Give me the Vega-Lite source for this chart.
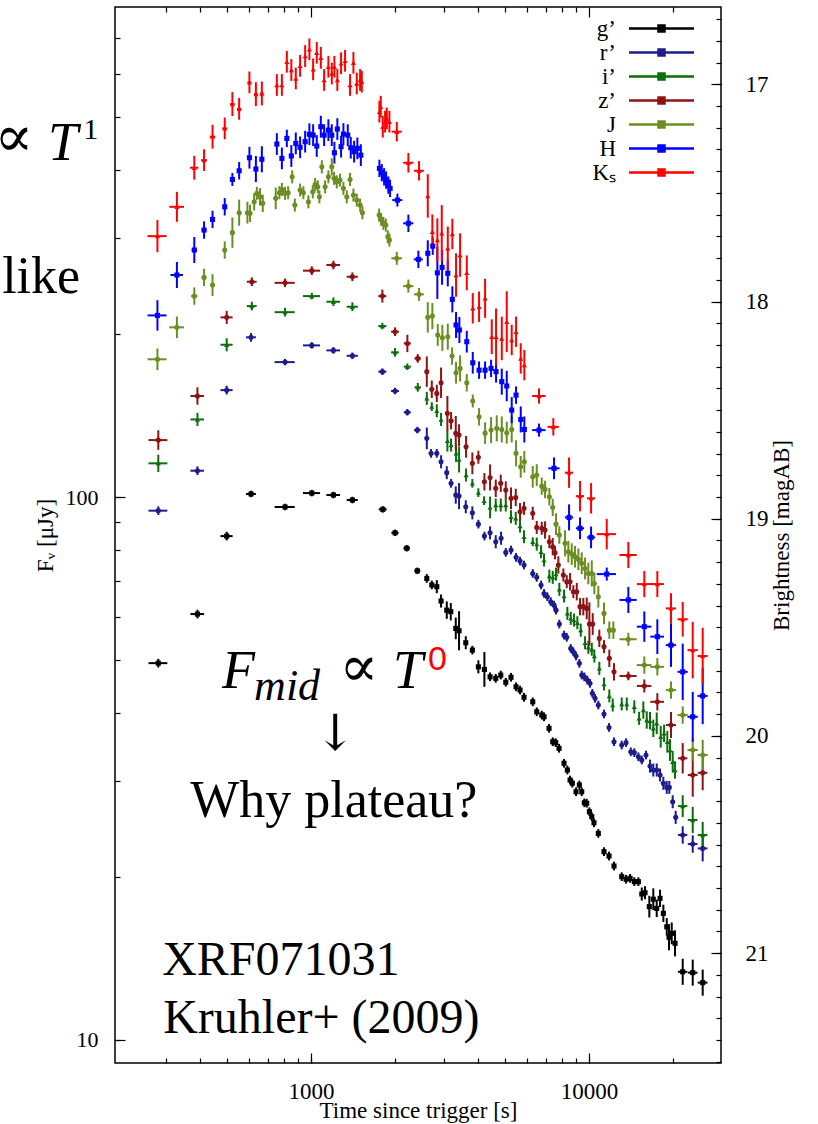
{
"$schema": "https://vega.github.io/schema/vega-lite/v6.json",
"width": 606, "height": 1056,
"autosize": {"type": "none"},
"padding": {"left": 115, "top": 7, "right": 97, "bottom": 61},
"background": "#ffffff",
"config": {
  "font": "Liberation Serif",
  "view": {"stroke": "#000000", "strokeWidth": 1.5}
},
"datasets": {
"phot": [
{"b":"g’","t":282,"te":22,"m":19.665,"me":0.02},
{"b":"g’","t":390,"te":22,"m":19.439,"me":0.02},
{"b":"g’","t":497,"te":25,"m":19.08,"me":0.02},
{"b":"g’","t":608,"te":25,"m":18.886,"me":0.015},
{"b":"g’","t":806,"te":67,"m":18.946,"me":0.015},
{"b":"g’","t":1006,"te":71,"m":18.882,"me":0.015},
{"b":"g’","t":1203,"te":68,"m":18.891,"me":0.015},
{"b":"g’","t":1408,"te":65,"m":18.914,"me":0.015},
{"b":"g’","t":1811,"te":60,"m":18.957,"me":0.015},
{"b":"g’","t":2005,"te":60,"m":19.065,"me":0.015},
{"b":"g’","t":2209,"te":60,"m":19.136,"me":0.015},
{"b":"g’","t":2412,"te":60,"m":19.24,"me":0.015},
{"b":"g’","t":2608,"m":19.275,"me":0.02},
{"b":"g’","t":2718,"m":19.305,"me":0.02},
{"b":"g’","t":2833,"m":19.313,"me":0.03},
{"b":"g’","t":2935,"m":19.379,"me":0.03},
{"b":"g’","t":3077,"m":19.421,"me":0.04},
{"b":"g’","t":3181,"m":19.428,"me":0.04},
{"b":"g’","t":3315,"m":19.505,"me":0.05},
{"b":"g’","t":3407,"m":19.516,"me":0.09},
{"b":"g’","t":3602,"m":19.571,"me":0.03},
{"b":"g’","t":3804,"m":19.605,"me":0.02},
{"b":"g’","t":3998,"m":19.682,"me":0.03},
{"b":"g’","t":4203,"m":19.694,"me":0.08},
{"b":"g’","t":4405,"m":19.728,"me":0.02},
{"b":"g’","t":4617,"m":19.735,"me":0.02},
{"b":"g’","t":4813,"m":19.72,"me":0.02},
{"b":"g’","t":5017,"m":19.753,"me":0.02},
{"b":"g’","t":5240,"m":19.73,"me":0.02},
{"b":"g’","t":5463,"m":19.774,"me":0.02},
{"b":"g’","t":5646,"m":19.789,"me":0.02},
{"b":"g’","t":5836,"m":19.822,"me":0.02},
{"b":"g’","t":6273,"m":19.843,"me":0.02},
{"b":"g’","t":6484,"m":19.889,"me":0.02},
{"b":"g’","t":6759,"m":19.904,"me":0.02},
{"b":"g’","t":6888,"m":19.912,"me":0.02},
{"b":"g’","t":7180,"m":19.965,"me":0.02},
{"b":"g’","t":7403,"m":20.027,"me":0.02},
{"b":"g’","t":7589,"m":20.031,"me":0.02},
{"b":"g’","t":7800,"m":20.057,"me":0.02},
{"b":"g’","t":8130,"m":20.126,"me":0.02},
{"b":"g’","t":8356,"m":20.157,"me":0.02},
{"b":"g’","t":8545,"m":20.203,"me":0.02},
{"b":"g’","t":8708,"m":20.218,"me":0.02},
{"b":"g’","t":8979,"m":20.257,"me":0.02},
{"b":"g’","t":9229,"m":20.226,"me":0.02},
{"b":"g’","t":9413,"m":20.257,"me":0.02},
{"b":"g’","t":9618,"m":20.308,"me":0.02},
{"b":"g’","t":9811,"m":20.31,"me":0.02},
{"b":"g’","t":10030,"m":20.349,"me":0.02},
{"b":"g’","t":10230,"m":20.372,"me":0.02},
{"b":"g’","t":10420,"m":20.4,"me":0.02},
{"b":"g’","t":10800,"m":20.449,"me":0.02},
{"b":"g’","t":11320,"m":20.533,"me":0.02},
{"b":"g’","t":11800,"m":20.553,"me":0.02},
{"b":"g’","t":12300,"m":20.599,"me":0.02},
{"b":"g’","t":13110,"m":20.648,"me":0.02},
{"b":"g’","t":13590,"m":20.66,"me":0.02},
{"b":"g’","t":14050,"m":20.656,"me":0.02},
{"b":"g’","t":14550,"m":20.671,"me":0.02},
{"b":"g’","t":15050,"m":20.671,"me":0.02},
{"b":"g’","t":15480,"m":20.728,"me":0.03},
{"b":"g’","t":15900,"m":20.722,"me":0.03},
{"b":"g’","t":16480,"m":20.786,"me":0.05},
{"b":"g’","t":17030,"m":20.752,"me":0.05},
{"b":"g’","t":17520,"m":20.794,"me":0.04},
{"b":"g’","t":18010,"m":20.748,"me":0.04},
{"b":"g’","t":18510,"m":20.817,"me":0.04},
{"b":"g’","t":19040,"m":20.879,"me":0.04},
{"b":"g’","t":19400,"m":20.927,"me":0.06},
{"b":"g’","t":19840,"m":20.909,"me":0.05},
{"b":"g’","t":20390,"m":20.955,"me":0.06},
{"b":"g’","t":21730,"te":850,"m":21.086,"me":0.06},
{"b":"g’","t":23610,"te":950,"m":21.09,"me":0.06},
{"b":"g’","t":25640,"te":1030,"m":21.136,"me":0.06},
{"b":"r’","t":282,"te":22,"m":18.963,"me":0.02},
{"b":"r’","t":390,"te":22,"m":18.779,"me":0.02},
{"b":"r’","t":497,"te":25,"m":18.408,"me":0.02},
{"b":"r’","t":608,"te":25,"m":18.165,"me":0.02},
{"b":"r’","t":806,"te":67,"m":18.279,"me":0.015},
{"b":"r’","t":1006,"te":71,"m":18.202,"me":0.015},
{"b":"r’","t":1203,"te":68,"m":18.225,"me":0.015},
{"b":"r’","t":1408,"te":65,"m":18.25,"me":0.015},
{"b":"r’","t":1805,"te":60,"m":18.323,"me":0.015},
{"b":"r’","t":2005,"te":65,"m":18.412,"me":0.015},
{"b":"r’","t":2220,"te":65,"m":18.51,"me":0.015},
{"b":"r’","t":2412,"te":65,"m":18.592,"me":0.015},
{"b":"r’","t":2608,"m":18.63,"me":0.05},
{"b":"r’","t":2702,"m":18.699,"me":0.02},
{"b":"r’","t":2833,"m":18.699,"me":0.02},
{"b":"r’","t":2935,"m":18.738,"me":0.03},
{"b":"r’","t":3077,"m":18.788,"me":0.03},
{"b":"r’","t":3189,"m":18.837,"me":0.02},
{"b":"r’","t":3315,"m":18.891,"me":0.04},
{"b":"r’","t":3407,"m":18.896,"me":0.06},
{"b":"r’","t":3602,"m":18.945,"me":0.03},
{"b":"r’","t":3804,"m":18.973,"me":0.03},
{"b":"r’","t":3998,"m":19.025,"me":0.02},
{"b":"r’","t":4203,"m":19.08,"me":0.02},
{"b":"r’","t":4405,"m":19.065,"me":0.03},
{"b":"r’","t":4617,"m":19.106,"me":0.03},
{"b":"r’","t":4825,"m":19.09,"me":0.03},
{"b":"r’","t":5017,"m":19.155,"me":0.02},
{"b":"r’","t":5240,"m":19.144,"me":0.02},
{"b":"r’","t":5463,"m":19.178,"me":0.02},
{"b":"r’","t":5646,"m":19.195,"me":0.02},
{"b":"r’","t":5836,"m":19.213,"me":0.02},
{"b":"r’","t":6273,"m":19.252,"me":0.02},
{"b":"r’","t":6484,"m":19.27,"me":0.02},
{"b":"r’","t":6719,"m":19.305,"me":0.02},
{"b":"r’","t":6888,"m":19.344,"me":0.02},
{"b":"r’","t":7079,"m":19.359,"me":0.02},
{"b":"r’","t":7281,"m":19.382,"me":0.02},
{"b":"r’","t":7483,"m":19.398,"me":0.02},
{"b":"r’","t":7608,"m":19.421,"me":0.02},
{"b":"r’","t":7819,"m":19.485,"me":0.02},
{"b":"r’","t":8130,"m":19.536,"me":0.02},
{"b":"r’","t":8314,"m":19.546,"me":0.02},
{"b":"r’","t":8594,"m":19.597,"me":0.02},
{"b":"r’","t":8781,"m":19.613,"me":0.02},
{"b":"r’","t":8979,"m":19.632,"me":0.02},
{"b":"r’","t":9229,"m":19.666,"me":0.02},
{"b":"r’","t":9413,"m":19.72,"me":0.02},
{"b":"r’","t":9618,"m":19.728,"me":0.02},
{"b":"r’","t":9860,"m":19.743,"me":0.02},
{"b":"r’","t":10080,"m":19.758,"me":0.02},
{"b":"r’","t":10280,"m":19.804,"me":0.02},
{"b":"r’","t":10510,"m":19.827,"me":0.02},
{"b":"r’","t":10800,"m":19.858,"me":0.02},
{"b":"r’","t":11320,"m":19.899,"me":0.02},
{"b":"r’","t":11800,"m":19.961,"me":0.02},
{"b":"r’","t":12300,"m":20.027,"me":0.02},
{"b":"r’","t":13110,"m":20.042,"me":0.02},
{"b":"r’","t":13590,"m":20.031,"me":0.02},
{"b":"r’","t":14130,"m":20.073,"me":0.02},
{"b":"r’","t":14550,"m":20.077,"me":0.02},
{"b":"r’","t":15050,"m":20.096,"me":0.02},
{"b":"r’","t":15480,"m":20.111,"me":0.02},
{"b":"r’","t":16030,"m":20.088,"me":0.02},
{"b":"r’","t":16570,"m":20.139,"me":0.03},
{"b":"r’","t":17030,"m":20.157,"me":0.03},
{"b":"r’","t":17520,"m":20.157,"me":0.03},
{"b":"r’","t":18010,"m":20.18,"me":0.03},
{"b":"r’","t":18510,"m":20.218,"me":0.03},
{"b":"r’","t":19040,"m":20.237,"me":0.03},
{"b":"r’","t":19450,"m":20.237,"me":0.03},
{"b":"r’","t":20000,"m":20.303,"me":0.03},
{"b":"r’","t":20500,"m":20.375,"me":0.03},
{"b":"r’","t":21730,"te":850,"m":20.456,"me":0.04},
{"b":"r’","t":23610,"te":950,"m":20.498,"me":0.04},
{"b":"r’","t":25640,"te":1030,"m":20.518,"me":0.06},
{"b":"i’","t":282,"te":22,"m":18.745,"me":0.04},
{"b":"i’","t":390,"te":22,"m":18.543,"me":0.03},
{"b":"i’","t":497,"te":25,"m":18.199,"me":0.03},
{"b":"i’","t":612,"te":25,"m":18.021,"me":0.02},
{"b":"i’","t":806,"te":67,"m":18.049,"me":0.02},
{"b":"i’","t":1006,"te":71,"m":17.975,"me":0.015},
{"b":"i’","t":1203,"te":68,"m":18.001,"me":0.02},
{"b":"i’","t":1408,"te":65,"m":18.024,"me":0.02},
{"b":"i’","t":1805,"te":60,"m":18.113,"me":0.015},
{"b":"i’","t":2005,"te":65,"m":18.234,"me":0.02},
{"b":"i’","t":2220,"te":65,"m":18.3,"me":0.015},
{"b":"i’","t":2420,"te":65,"m":18.395,"me":0.02},
{"b":"i’","t":2608,"m":18.446,"me":0.03},
{"b":"i’","t":2718,"m":18.484,"me":0.02},
{"b":"i’","t":2833,"m":18.503,"me":0.03},
{"b":"i’","t":2935,"m":18.543,"me":0.03},
{"b":"i’","t":3093,"m":18.641,"me":0.05},
{"b":"i’","t":3189,"m":18.661,"me":0.03},
{"b":"i’","t":3323,"m":18.699,"me":0.04},
{"b":"i’","t":3407,"m":18.727,"me":0.06},
{"b":"i’","t":3611,"m":18.799,"me":0.03},
{"b":"i’","t":3804,"m":18.837,"me":0.02},
{"b":"i’","t":3998,"m":18.88,"me":0.02},
{"b":"i’","t":4192,"m":18.917,"me":0.02},
{"b":"i’","t":4405,"m":18.948,"me":0.05},
{"b":"i’","t":4617,"m":18.937,"me":0.03},
{"b":"i’","t":4813,"m":18.937,"me":0.03},
{"b":"i’","t":5017,"m":18.937,"me":0.03},
{"b":"i’","t":5240,"m":18.991,"me":0.03},
{"b":"i’","t":5449,"m":18.998,"me":0.03},
{"b":"i’","t":5646,"m":19.034,"me":0.03},
{"b":"i’","t":5836,"m":19.083,"me":0.03},
{"b":"i’","t":6273,"m":19.106,"me":0.02},
{"b":"i’","t":6484,"m":19.117,"me":0.03},
{"b":"i’","t":6719,"m":19.152,"me":0.03},
{"b":"i’","t":6888,"m":19.19,"me":0.03},
{"b":"i’","t":7198,"m":19.264,"me":0.03},
{"b":"i’","t":7403,"m":19.27,"me":0.03},
{"b":"i’","t":7608,"m":19.255,"me":0.03},
{"b":"i’","t":7819,"m":19.325,"me":0.03},
{"b":"i’","t":8130,"m":19.356,"me":0.03},
{"b":"i’","t":8356,"m":19.436,"me":0.03},
{"b":"i’","t":8594,"m":19.459,"me":0.03},
{"b":"i’","t":8831,"m":19.467,"me":0.03},
{"b":"i’","t":9077,"m":19.479,"me":0.03},
{"b":"i’","t":9335,"m":19.513,"me":0.03},
{"b":"i’","t":9674,"m":19.571,"me":0.03},
{"b":"i’","t":9942,"m":19.592,"me":0.03},
{"b":"i’","t":10230,"m":19.601,"me":0.03},
{"b":"i’","t":10450,"m":19.632,"me":0.03},
{"b":"i’","t":10890,"m":19.689,"me":0.03},
{"b":"i’","t":11320,"m":19.761,"me":0.03},
{"b":"i’","t":11830,"m":19.816,"me":0.03},
{"b":"i’","t":12170,"m":19.858,"me":0.03},
{"b":"i’","t":13110,"m":19.853,"me":0.03},
{"b":"i’","t":13670,"m":19.853,"me":0.03},
{"b":"i’","t":14550,"m":19.866,"me":0.03},
{"b":"i’","t":15140,"m":19.919,"me":0.03},
{"b":"i’","t":15680,"m":19.881,"me":0.04},
{"b":"i’","t":16130,"m":19.927,"me":0.04},
{"b":"i’","t":16570,"m":19.93,"me":0.04},
{"b":"i’","t":17030,"m":19.965,"me":0.04},
{"b":"i’","t":17520,"m":19.942,"me":0.05},
{"b":"i’","t":18110,"m":20.004,"me":0.05},
{"b":"i’","t":18620,"m":19.988,"me":0.04},
{"b":"i’","t":19130,"m":20.027,"me":0.05},
{"b":"i’","t":19560,"m":20.065,"me":0.05},
{"b":"i’","t":20000,"m":20.119,"me":0.05},
{"b":"i’","t":20390,"m":20.157,"me":0.04},
{"b":"i’","t":21730,"te":850,"m":20.323,"me":0.05},
{"b":"i’","t":23610,"te":950,"m":20.387,"me":0.06},
{"b":"i’","t":25640,"te":1030,"m":20.456,"me":0.06},
{"b":"z’","t":282,"te":22,"m":18.638,"me":0.045},
{"b":"z’","t":390,"te":22,"m":18.435,"me":0.04},
{"b":"z’","t":497,"te":25,"m":18.073,"me":0.03},
{"b":"z’","t":612,"te":25,"m":17.909,"me":0.02},
{"b":"z’","t":806,"te":67,"m":17.914,"me":0.02},
{"b":"z’","t":1006,"te":71,"m":17.858,"me":0.02},
{"b":"z’","t":1203,"te":68,"m":17.832,"me":0.02},
{"b":"z’","t":1408,"te":65,"m":17.886,"me":0.02},
{"b":"z’","t":1805,"te":60,"m":17.975,"me":0.03},
{"b":"z’","t":2005,"te":65,"m":18.139,"me":0.02},
{"b":"z’","t":2220,"te":65,"m":18.193,"me":0.04},
{"b":"z’","t":2420,"te":65,"m":18.262,"me":0.02},
{"b":"z’","t":2608,"m":18.323,"me":0.07},
{"b":"z’","t":2718,"m":18.404,"me":0.04},
{"b":"z’","t":2833,"m":18.423,"me":0.04},
{"b":"z’","t":2935,"m":18.374,"me":0.07},
{"b":"z’","t":3093,"m":18.515,"me":0.08},
{"b":"z’","t":3189,"m":18.549,"me":0.04},
{"b":"z’","t":3315,"m":18.607,"me":0.08},
{"b":"z’","t":3407,"m":18.615,"me":0.05},
{"b":"z’","t":3611,"m":18.669,"me":0.05},
{"b":"z’","t":3804,"m":18.745,"me":0.05},
{"b":"z’","t":3998,"m":18.717,"me":0.03},
{"b":"z’","t":4203,"m":18.83,"me":0.04},
{"b":"z’","t":4405,"m":18.81,"me":0.06},
{"b":"z’","t":4617,"m":18.86,"me":0.04},
{"b":"z’","t":4813,"m":18.837,"me":0.04},
{"b":"z’","t":5017,"m":18.868,"me":0.04},
{"b":"z’","t":5240,"m":18.906,"me":0.05},
{"b":"z’","t":5449,"m":18.902,"me":0.04},
{"b":"z’","t":5646,"m":18.968,"me":0.04},
{"b":"z’","t":5836,"m":18.952,"me":0.03},
{"b":"z’","t":6273,"m":18.975,"me":0.03},
{"b":"z’","t":6484,"m":19.04,"me":0.03},
{"b":"z’","t":6759,"m":19.044,"me":0.03},
{"b":"z’","t":6946,"m":19.052,"me":0.04},
{"b":"z’","t":7198,"m":19.106,"me":0.03},
{"b":"z’","t":7403,"m":19.129,"me":0.04},
{"b":"z’","t":7546,"m":19.157,"me":0.03},
{"b":"z’","t":7755,"m":19.213,"me":0.04},
{"b":"z’","t":8083,"m":19.259,"me":0.03},
{"b":"z’","t":8314,"m":19.29,"me":0.03},
{"b":"z’","t":8545,"m":19.29,"me":0.04},
{"b":"z’","t":8781,"m":19.336,"me":0.03},
{"b":"z’","t":9033,"m":19.336,"me":0.04},
{"b":"z’","t":9282,"m":19.405,"me":0.04},
{"b":"z’","t":9539,"m":19.405,"me":0.04},
{"b":"z’","t":9811,"m":19.413,"me":0.05},
{"b":"z’","t":10030,"m":19.485,"me":0.1},
{"b":"z’","t":10310,"m":19.485,"me":0.05},
{"b":"z’","t":10890,"m":19.551,"me":0.04},
{"b":"z’","t":11320,"m":19.589,"me":0.03},
{"b":"z’","t":11830,"m":19.643,"me":0.04},
{"b":"z’","t":12300,"m":19.705,"me":0.04},
{"b":"z’","t":13850,"te":985,"m":19.724,"me":0.02},
{"b":"z’","t":15810,"te":950,"m":19.77,"me":0.03},
{"b":"z’","t":17610,"te":1000,"m":19.843,"me":0.04},
{"b":"z’","t":19720,"te":830,"m":19.95,"me":0.06},
{"b":"z’","t":21730,"te":850,"m":20.103,"me":0.07},
{"b":"z’","t":23610,"te":950,"m":20.18,"me":0.1},
{"b":"z’","t":25640,"te":1030,"m":20.17,"me":0.08},
{"b":"J","t":280,"te":22,"m":18.266,"me":0.05},
{"b":"J","t":329,"te":20,"m":18.119,"me":0.05},
{"b":"J","t":380,"te":10,"m":17.975,"me":0.04},
{"b":"J","t":412,"te":8,"m":17.889,"me":0.04},
{"b":"J","t":442,"m":17.924,"me":0.05},
{"b":"J","t":489,"m":17.763,"me":0.04},
{"b":"J","t":521,"m":17.683,"me":0.07},
{"b":"J","t":551,"m":17.591,"me":0.06},
{"b":"J","t":590,"m":17.591,"me":0.05},
{"b":"J","t":603,"m":17.594,"me":0.04},
{"b":"J","t":624,"m":17.541,"me":0.04},
{"b":"J","t":638,"m":17.502,"me":0.03},
{"b":"J","t":655,"m":17.518,"me":0.04},
{"b":"J","t":670,"m":17.548,"me":0.04},
{"b":"J","t":746,"m":17.525,"me":0.05},
{"b":"J","t":769,"m":17.499,"me":0.03},
{"b":"J","t":785,"m":17.484,"me":0.03},
{"b":"J","t":806,"m":17.502,"me":0.03},
{"b":"J","t":827,"m":17.499,"me":0.03},
{"b":"J","t":855,"m":17.426,"me":0.03},
{"b":"J","t":874,"m":17.556,"me":0.03},
{"b":"J","t":913,"m":17.487,"me":0.03},
{"b":"J","t":938,"m":17.499,"me":0.03},
{"b":"J","t":978,"m":17.541,"me":0.03},
{"b":"J","t":1014,"m":17.495,"me":0.03},
{"b":"J","t":1034,"m":17.461,"me":0.03},
{"b":"J","t":1057,"m":17.472,"me":0.03},
{"b":"J","t":1071,"m":17.518,"me":0.03},
{"b":"J","t":1093,"m":17.38,"me":0.03},
{"b":"J","t":1123,"m":17.472,"me":0.03},
{"b":"J","t":1154,"m":17.426,"me":0.03},
{"b":"J","t":1187,"m":17.38,"me":0.04},
{"b":"J","t":1210,"m":17.433,"me":0.03},
{"b":"J","t":1237,"m":17.449,"me":0.03},
{"b":"J","t":1271,"m":17.441,"me":0.03},
{"b":"J","t":1307,"m":17.479,"me":0.03},
{"b":"J","t":1344,"m":17.518,"me":0.03},
{"b":"J","t":1381,"m":17.438,"me":0.03},
{"b":"J","t":1420,"m":17.51,"me":0.03},
{"b":"J","t":1460,"m":17.533,"me":0.03},
{"b":"J","t":1501,"m":17.556,"me":0.03},
{"b":"J","t":1530,"m":17.591,"me":0.03},
{"b":"J","t":1757,"m":17.602,"me":0.03},
{"b":"J","t":1786,"m":17.622,"me":0.03},
{"b":"J","t":1820,"m":17.64,"me":0.03},
{"b":"J","t":1857,"m":17.648,"me":0.03},
{"b":"J","t":1888,"m":17.702,"me":0.03},
{"b":"J","t":1913,"m":17.717,"me":0.03},
{"b":"J","t":2034,"te":90,"m":17.801,"me":0.03},
{"b":"J","t":2239,"te":95,"m":17.929,"me":0.03},
{"b":"J","t":2446,"te":100,"m":17.967,"me":0.03},
{"b":"J","t":2629,"m":18.073,"me":0.07},
{"b":"J","t":2731,"m":18.067,"me":0.06},
{"b":"J","t":2856,"m":18.154,"me":0.05},
{"b":"J","t":2967,"m":18.167,"me":0.06},
{"b":"J","t":3103,"m":18.162,"me":0.06},
{"b":"J","t":3215,"m":18.251,"me":0.04},
{"b":"J","t":3323,"m":18.328,"me":0.05},
{"b":"J","t":3436,"m":18.308,"me":0.06},
{"b":"J","t":3632,"m":18.374,"me":0.04},
{"b":"J","t":3817,"m":18.458,"me":0.03},
{"b":"J","t":4021,"m":18.531,"me":0.04},
{"b":"J","t":4227,"m":18.606,"me":0.05},
{"b":"J","t":4442,"m":18.592,"me":0.06},
{"b":"J","t":4656,"m":18.584,"me":0.06},
{"b":"J","t":4853,"m":18.589,"me":0.06},
{"b":"J","t":5058,"m":18.604,"me":0.05},
{"b":"J","t":5270,"m":18.589,"me":0.06},
{"b":"J","t":5463,"m":18.699,"me":0.06},
{"b":"J","t":5679,"m":18.761,"me":0.05},
{"b":"J","t":5851,"m":18.738,"me":0.05},
{"b":"J","t":6273,"m":18.807,"me":0.05},
{"b":"J","t":6484,"m":18.799,"me":0.05},
{"b":"J","t":6759,"m":18.85,"me":0.04},
{"b":"J","t":6946,"m":18.865,"me":0.04},
{"b":"J","t":7198,"m":18.899,"me":0.04},
{"b":"J","t":7403,"m":18.948,"me":0.04},
{"b":"J","t":7608,"m":19.025,"me":0.05},
{"b":"J","t":7819,"m":19.075,"me":0.04},
{"b":"J","t":8198,"m":19.113,"me":0.06},
{"b":"J","t":8425,"m":19.152,"me":0.05},
{"b":"J","t":8666,"m":19.163,"me":0.05},
{"b":"J","t":8905,"m":19.175,"me":0.05},
{"b":"J","t":9153,"m":19.187,"me":0.05},
{"b":"J","t":9413,"m":19.205,"me":0.05},
{"b":"J","t":9674,"m":19.229,"me":0.05},
{"b":"J","t":9942,"m":19.252,"me":0.05},
{"b":"J","t":10230,"m":19.252,"me":0.06},
{"b":"J","t":10450,"m":19.298,"me":0.05},
{"b":"J","t":10800,"m":19.359,"me":0.05},
{"b":"J","t":11320,"m":19.436,"me":0.05},
{"b":"J","t":11830,"m":19.513,"me":0.04},
{"b":"J","t":12230,"m":19.513,"me":0.04},
{"b":"J","t":13850,"te":985,"m":19.555,"me":0.03},
{"b":"J","t":15810,"te":950,"m":19.674,"me":0.04},
{"b":"J","t":17610,"te":1000,"m":19.682,"me":0.04},
{"b":"J","t":19720,"te":830,"m":19.789,"me":0.04},
{"b":"J","t":21730,"te":920,"m":19.904,"me":0.04},
{"b":"J","t":23610,"te":1000,"m":20.065,"me":0.05},
{"b":"J","t":25640,"te":1080,"m":20.088,"me":0.07},
{"b":"H","t":280,"te":22,"m":18.064,"me":0.07},
{"b":"H","t":329,"te":17,"m":17.878,"me":0.06},
{"b":"H","t":380,"te":8,"m":17.763,"me":0.06},
{"b":"H","t":412,"te":8,"m":17.671,"me":0.04},
{"b":"H","t":442,"m":17.622,"me":0.04},
{"b":"H","t":489,"m":17.564,"me":0.04},
{"b":"H","t":521,"m":17.438,"me":0.03},
{"b":"H","t":551,"m":17.398,"me":0.04},
{"b":"H","t":600,"m":17.338,"me":0.05},
{"b":"H","t":633,"m":17.39,"me":0.06},
{"b":"H","t":665,"m":17.345,"me":0.06},
{"b":"H","t":753,"m":17.275,"me":0.05},
{"b":"H","t":785,"m":17.341,"me":0.05},
{"b":"H","t":818,"m":17.249,"me":0.04},
{"b":"H","t":849,"m":17.33,"me":0.05},
{"b":"H","t":881,"m":17.272,"me":0.05},
{"b":"H","t":913,"m":17.29,"me":0.05},
{"b":"H","t":952,"m":17.264,"me":0.05},
{"b":"H","t":986,"m":17.23,"me":0.05},
{"b":"H","t":1017,"m":17.234,"me":0.05},
{"b":"H","t":1048,"m":17.284,"me":0.05},
{"b":"H","t":1084,"m":17.195,"me":0.05},
{"b":"H","t":1114,"m":17.234,"me":0.05},
{"b":"H","t":1154,"m":17.211,"me":0.05},
{"b":"H","t":1187,"m":17.234,"me":0.05},
{"b":"H","t":1213,"m":17.315,"me":0.05},
{"b":"H","t":1243,"m":17.206,"me":0.05},
{"b":"H","t":1282,"m":17.287,"me":0.05},
{"b":"H","t":1307,"m":17.229,"me":0.05},
{"b":"H","t":1355,"m":17.234,"me":0.05},
{"b":"H","t":1389,"m":17.292,"me":0.05},
{"b":"H","t":1428,"m":17.31,"me":0.05},
{"b":"H","t":1467,"m":17.295,"me":0.05},
{"b":"H","t":1510,"m":17.326,"me":0.05},
{"b":"H","t":1761,"m":17.387,"me":0.04},
{"b":"H","t":1796,"m":17.407,"me":0.04},
{"b":"H","t":1831,"m":17.426,"me":0.04},
{"b":"H","t":1862,"m":17.441,"me":0.04},
{"b":"H","t":1897,"m":17.464,"me":0.04},
{"b":"H","t":1924,"m":17.479,"me":0.04},
{"b":"H","t":2044,"te":85,"m":17.533,"me":0.03},
{"b":"H","t":2239,"te":95,"m":17.64,"me":0.04},
{"b":"H","t":2432,"te":90,"m":17.806,"me":0.04},
{"b":"H","t":2629,"m":17.778,"me":0.06},
{"b":"H","t":2740,"m":17.745,"me":0.04},
{"b":"H","t":2846,"m":17.868,"me":0.12},
{"b":"H","t":2960,"m":17.843,"me":0.08},
{"b":"H","t":3103,"m":17.87,"me":0.06},
{"b":"H","t":3223,"m":17.99,"me":0.06},
{"b":"H","t":3323,"m":18.108,"me":0.06},
{"b":"H","t":3416,"m":18.131,"me":0.06},
{"b":"H","t":3632,"m":18.185,"me":0.05},
{"b":"H","t":3817,"m":18.282,"me":0.05},
{"b":"H","t":4021,"m":18.316,"me":0.04},
{"b":"H","t":4227,"m":18.316,"me":0.04},
{"b":"H","t":4442,"m":18.308,"me":0.04},
{"b":"H","t":4629,"m":18.323,"me":0.05},
{"b":"H","t":4853,"m":18.369,"me":0.06},
{"b":"H","t":5058,"m":18.389,"me":0.07},
{"b":"H","t":5270,"m":18.5,"me":0.06},
{"b":"H","t":5463,"m":18.431,"me":0.04},
{"b":"H","t":5679,"m":18.543,"me":0.06},
{"b":"H","t":5851,"m":18.589,"me":0.06},
{"b":"H","t":6608,"te":365,"m":18.592,"me":0.03},
{"b":"H","t":7483,"te":350,"m":18.768,"me":0.05},
{"b":"H","t":8475,"te":290,"m":18.994,"me":0.06},
{"b":"H","t":9282,"te":315,"m":19.044,"me":0.05},
{"b":"H","t":10170,"te":345,"m":19.086,"me":0.05},
{"b":"H","t":11580,"te":925,"m":19.255,"me":0.03},
{"b":"H","t":13850,"te":985,"m":19.374,"me":0.06},
{"b":"H","t":15810,"te":950,"m":19.497,"me":0.07},
{"b":"H","t":17610,"te":1000,"m":19.543,"me":0.08},
{"b":"H","t":19720,"te":830,"m":19.582,"me":0.1},
{"b":"H","t":21730,"te":920,"m":19.705,"me":0.13},
{"b":"H","t":23610,"te":1000,"m":19.912,"me":0.115},
{"b":"H","t":25640,"te":1080,"m":19.816,"me":0.13},
{"b":"Kₛ","t":280,"te":22,"m":17.699,"me":0.074},
{"b":"Kₛ","t":329,"te":20,"m":17.564,"me":0.069},
{"b":"Kₛ","t":380,"te":13,"m":17.384,"me":0.055},
{"b":"Kₛ","t":412,"te":10,"m":17.349,"me":0.05},
{"b":"Kₛ","t":442,"te":10,"m":17.241,"me":0.055},
{"b":"Kₛ","t":489,"te":10,"m":17.203,"me":0.05},
{"b":"Kₛ","t":521,"te":10,"m":17.091,"me":0.055},
{"b":"Kₛ","t":551,"te":10,"m":17.113,"me":0.05},
{"b":"Kₛ","t":600,"te":10,"m":16.991,"me":0.05},
{"b":"Kₛ","t":633,"te":10,"m":17.045,"me":0.055},
{"b":"Kₛ","t":665,"te":10,"m":17.042,"me":0.055},
{"b":"Kₛ","t":753,"m":17.003,"me":0.05},
{"b":"Kₛ","t":785,"m":17.003,"me":0.05},
{"b":"Kₛ","t":818,"m":16.896,"me":0.05},
{"b":"Kₛ","t":849,"m":16.934,"me":0.05},
{"b":"Kₛ","t":881,"m":16.973,"me":0.05},
{"b":"Kₛ","t":913,"m":16.915,"me":0.05},
{"b":"Kₛ","t":952,"m":16.87,"me":0.05},
{"b":"Kₛ","t":986,"m":16.839,"me":0.05},
{"b":"Kₛ","t":1017,"m":16.931,"me":0.05},
{"b":"Kₛ","t":1048,"m":16.855,"me":0.05},
{"b":"Kₛ","t":1084,"m":16.878,"me":0.05},
{"b":"Kₛ","t":1114,"m":16.98,"me":0.05},
{"b":"Kₛ","t":1154,"m":16.919,"me":0.05},
{"b":"Kₛ","t":1187,"m":16.95,"me":0.05},
{"b":"Kₛ","t":1213,"m":16.919,"me":0.05},
{"b":"Kₛ","t":1243,"m":16.98,"me":0.05},
{"b":"Kₛ","t":1282,"m":16.903,"me":0.05},
{"b":"Kₛ","t":1325,"m":16.892,"me":0.05},
{"b":"Kₛ","t":1381,"m":17.003,"me":0.05},
{"b":"Kₛ","t":1420,"m":16.901,"me":0.05},
{"b":"Kₛ","t":1460,"m":16.996,"me":0.05},
{"b":"Kₛ","t":1501,"m":16.98,"me":0.05},
{"b":"Kₛ","t":1522,"m":16.988,"me":0.05},
{"b":"Kₛ","t":1761,"m":17.126,"me":0.05},
{"b":"Kₛ","t":1781,"m":17.103,"me":0.05},
{"b":"Kₛ","t":1811,"m":17.195,"me":0.05},
{"b":"Kₛ","t":1846,"m":17.172,"me":0.05},
{"b":"Kₛ","t":1872,"m":17.157,"me":0.05},
{"b":"Kₛ","t":1913,"m":17.172,"me":0.05},
{"b":"Kₛ","t":2034,"te":85,"m":17.218,"me":0.045},
{"b":"Kₛ","t":2239,"te":95,"m":17.361,"me":0.045},
{"b":"Kₛ","t":2446,"te":100,"m":17.398,"me":0.045},
{"b":"Kₛ","t":2629,"m":17.514,"me":0.1},
{"b":"Kₛ","t":2731,"m":17.679,"me":0.08},
{"b":"Kₛ","t":2846,"m":17.717,"me":0.1},
{"b":"Kₛ","t":2952,"m":17.686,"me":0.13},
{"b":"Kₛ","t":3103,"m":17.755,"me":0.1},
{"b":"Kₛ","t":3223,"m":17.689,"me":0.07},
{"b":"Kₛ","t":3323,"m":17.878,"me":0.1},
{"b":"Kₛ","t":3436,"m":17.786,"me":0.1},
{"b":"Kₛ","t":3632,"m":17.868,"me":0.08},
{"b":"Kₛ","t":3817,"m":18.031,"me":0.07},
{"b":"Kₛ","t":4021,"m":18.024,"me":0.07},
{"b":"Kₛ","t":4227,"m":17.985,"me":0.09},
{"b":"Kₛ","t":4467,"m":18.162,"me":0.08},
{"b":"Kₛ","t":4629,"m":18.162,"me":0.13},
{"b":"Kₛ","t":4853,"m":18.17,"me":0.1},
{"b":"Kₛ","t":5058,"m":18.093,"me":0.14},
{"b":"Kₛ","t":5270,"m":18.177,"me":0.07},
{"b":"Kₛ","t":5463,"m":18.139,"me":0.07},
{"b":"Kₛ","t":5679,"m":18.262,"me":0.07},
{"b":"Kₛ","t":5851,"m":18.293,"me":0.07},
{"b":"Kₛ","t":6608,"te":365,"m":18.435,"me":0.035},
{"b":"Kₛ","t":7440,"te":350,"m":18.577,"me":0.04},
{"b":"Kₛ","t":8475,"te":290,"m":18.788,"me":0.07},
{"b":"Kₛ","t":9282,"te":315,"m":18.896,"me":0.07},
{"b":"Kₛ","t":10170,"te":345,"m":18.906,"me":0.07},
{"b":"Kₛ","t":11580,"te":925,"m":19.071,"me":0.07},
{"b":"Kₛ","t":13850,"te":985,"m":19.167,"me":0.06},
{"b":"Kₛ","t":15810,"te":950,"m":19.301,"me":0.06},
{"b":"Kₛ","t":17610,"te":1000,"m":19.301,"me":0.06},
{"b":"Kₛ","t":19720,"te":830,"m":19.413,"me":0.07},
{"b":"Kₛ","t":21730,"te":920,"m":19.463,"me":0.08},
{"b":"Kₛ","t":23610,"te":1000,"m":19.605,"me":0.13},
{"b":"Kₛ","t":25640,"te":1080,"m":19.632,"me":0.13}
]
},
"layer": [
 {
  "data": {"values": [{"t": 1000, "f": 100}]},
  "mark": {"type": "point", "opacity": 0},
  "encoding": {
   "x": {"field": "t", "type": "quantitative", "scale": {"type": "log", "domain": [197, 29840], "nice": false},
         "axis": {"orient": "top", "title": null, "labels": false, "domain": false, "grid": false, "tickColor": "#000000", "tickWidth": 1.2, "tickSize": -5,
                  "values": [300,400,500,600,700,800,900,2000,3000,4000,5000,6000,7000,8000,9000,20000]}},
   "y": {"field": "f", "type": "quantitative", "scale": {"type": "log", "domain": [9.07, 798.8], "nice": false},
         "axis": {"orient": "left", "domain": false, "grid": false, "tickColor": "#000000", "tickWidth": 1.2, "tickSize": -5,
                  "title": "Fᵥ [μJy]", "titleFont": "Liberation Serif", "titleFontSize": 23, "titleFontWeight": "normal", "titleColor": "#000000", "titlePadding": 8,
                  "values": [10,20,30,40,50,60,70,80,90,100,200,300,400,500,600,700],
                  "labelExpr": "datum.value == 10 || datum.value == 100 ? format(datum.value, 'd') : ''",
                  "labelFont": "Liberation Serif", "labelFontSize": 22, "labelColor": "#000000", "labelPadding": 22}}
  }
 },
 {
  "data": {"values": [{"t": 1000, "f": 100}]},
  "mark": {"type": "point", "opacity": 0},
  "encoding": {
   "x": {"field": "t", "type": "quantitative", "scale": {"type": "log", "domain": [197, 29840], "nice": false},
         "axis": {"orient": "top", "title": null, "labels": false, "domain": false, "grid": false, "tickColor": "#000000", "tickWidth": 1.2, "tickSize": -10,
                  "values": [1000, 10000]}},
   "y": {"field": "f", "type": "quantitative", "scale": {"type": "log", "domain": [9.07, 798.8], "nice": false},
         "axis": {"orient": "left", "title": null, "labels": false, "domain": false, "grid": false, "tickColor": "#000000", "tickWidth": 1.2, "tickSize": -10,
                  "values": [10, 100]}}
  }
 },
 {
  "data": {"values": [{"t": 1000, "m": 19}]},
  "mark": {"type": "point", "opacity": 0},
  "encoding": {
   "x": {"field": "t", "type": "quantitative", "scale": {"type": "log", "domain": [197, 29840], "nice": false},
         "axis": {"orient": "bottom", "domain": false, "grid": false, "tickColor": "#000000", "tickWidth": 1.2, "tickSize": -5,
                  "title": "Time since trigger [s]", "titleFont": "Liberation Serif", "titleFontSize": 23, "titleFontWeight": "normal", "titleColor": "#000000", "titlePadding": -4,
                  "values": [300,400,500,600,700,800,900,1000,2000,3000,4000,5000,6000,7000,8000,9000,10000,20000],
                  "labelExpr": "datum.value == 1000 || datum.value == 10000 ? format(datum.value, 'd') : ''",
                  "labelFont": "Liberation Serif", "labelFontSize": 23, "labelColor": "#000000", "labelPadding": 22}},
   "y": {"field": "m", "type": "quantitative", "scale": {"domain": [16.644, 21.506], "reverse": true, "nice": false, "zero": false},
         "axis": {"orient": "right", "domain": false, "grid": false, "tickColor": "#000000", "tickWidth": 1.2, "tickSize": -5,
                  "title": "Brightness [magAB]", "titleFont": "Liberation Serif", "titleFontSize": 23, "titleFontWeight": "normal", "titleColor": "#000000", "titleAngle": 270, "titleBaseline": "top", "titlePadding": 2,
                  "values": [16.7,16.8,16.9,17,17.1,17.2,17.3,17.4,17.5,17.6,17.7,17.8,17.9,18,18.1,18.2,18.3,18.4,18.5,18.6,18.7,18.8,18.9,19,19.1,19.2,19.3,19.4,19.5,19.6,19.7,19.8,19.9,20,20.1,20.2,20.3,20.4,20.5,20.6,20.7,20.8,20.9,21,21.1,21.2,21.3,21.4,21.5],
                  "labelExpr": "abs(datum.value - round(datum.value)) < 0.01 ? format(datum.value, 'd') : ''",
                  "labelFont": "Liberation Serif", "labelFontSize": 23, "labelColor": "#000000", "labelPadding": 29}}
  }
 },
 {
  "data": {"values": [{"t": 1000, "m": 19}]},
  "mark": {"type": "point", "opacity": 0},
  "encoding": {
   "x": {"field": "t", "type": "quantitative", "scale": {"type": "log", "domain": [197, 29840], "nice": false},
         "axis": {"orient": "bottom", "title": null, "labels": false, "domain": false, "grid": false, "tickColor": "#000000", "tickWidth": 1.2, "tickSize": -10,
                  "values": [1000, 10000]}},
   "y": {"field": "m", "type": "quantitative", "scale": {"domain": [16.644, 21.506], "reverse": true, "nice": false, "zero": false},
         "axis": {"orient": "right", "title": null, "labels": false, "domain": false, "grid": false, "tickColor": "#000000", "tickWidth": 1.2, "tickSize": -10,
                  "values": [17, 18, 19, 20, 21]}}
  }
 },
 {
  "data": {"name": "phot"},
  "transform": [{"filter": "datum.te > 0"}],
  "mark": {"type": "errorbar", "thickness": 2},
  "encoding": {
   "x": {"field": "t", "type": "quantitative", "scale": {"type": "log", "domain": [197, 29840], "nice": false}, "axis": null},
   "xError": {"field": "te"},
   "y": {"field": "m", "type": "quantitative", "scale": {"domain": [16.644, 21.506], "reverse": true, "nice": false, "zero": false}, "axis": null},
   "color": {"field": "b", "type": "nominal",
             "scale": {"domain": ["g’","r’","i’","z’","J","H","Kₛ"], "range": ["#000000","#1c1c8c","#0b6e0b","#8c1414","#6b8e23","#0000ff","#ff0000"]}}
  }
 },
 {
  "data": {"name": "phot"},
  "mark": {"type": "errorbar", "thickness": 2},
  "encoding": {
   "x": {"field": "t", "type": "quantitative", "scale": {"type": "log", "domain": [197, 29840], "nice": false}, "axis": null},
   "y": {"field": "m", "type": "quantitative", "scale": {"domain": [16.644, 21.506], "reverse": true, "nice": false, "zero": false}, "axis": null},
   "yError": {"field": "me"},
   "color": {"field": "b", "type": "nominal"}
  }
 },
 {
  "data": {"name": "phot"},
  "mark": {"type": "point", "filled": true, "size": 26, "opacity": 1},
  "encoding": {
   "x": {"field": "t", "type": "quantitative", "scale": {"type": "log", "domain": [197, 29840], "nice": false}, "axis": null},
   "y": {"field": "m", "type": "quantitative", "scale": {"domain": [16.644, 21.506], "reverse": true, "nice": false, "zero": false}, "axis": null},
   "shape": {"field": "b", "type": "nominal", "legend": null,
             "scale": {"range": ["square","circle","triangle-up","square","triangle-up","circle","circle"]}},
   "color": {"field": "b", "type": "nominal",
             "legend": {"orient": "none", "legendX": 535, "legendY": 10, "title": null, "direction": "vertical",
                        "symbolType": "M-6.5,0H6.5M-0.6,-0.6H0.6V0.6H-0.6Z", "symbolSize": 100, "symbolStrokeWidth": 2.5,
                        "rowPadding": -0.45, "padding": 0,
                        "labelAlign": "right", "labelOffset": -57, "labelFont": "Liberation Serif", "labelFontSize": 23, "labelColor": "#000000", "labelLimit": 120,
                        "symbolOpacity": 1,
                        "encode": {"symbols": {"update": {"stroke": {"scale": "color", "field": "value"}, "fill": {"scale": "color", "field": "value"}, "strokeWidth": {"value": 2.5}, "opacity": {"value": 1}}}}}}
  }
 },
 {
  "data": {"values": [{"t": 367.1, "m": 20.374, "s": "Why plateau?"}]},
  "mark": {"type": "text", "align": "left", "baseline": "alphabetic", "font": "Liberation Serif", "fontSize": 52, "color": "#000000"},
  "encoding": {"x": {"field": "t", "type": "quantitative", "scale": {"type": "log", "domain": [197, 29840], "nice": false}, "axis": null}, "y": {"field": "m", "type": "quantitative", "scale": {"domain": [16.644, 21.506], "reverse": true, "nice": false, "zero": false}, "axis": null}, "text": {"field": "s"}}
 },
 {
  "data": {"values": [{"t": 291.1, "m": 21.101, "s": "XRF071031"}, {"t": 293.6, "m": 21.368, "s": "Kruhler+ (2009)"}]},
  "mark": {"type": "text", "align": "left", "baseline": "alphabetic", "font": "Liberation Serif", "fontSize": 48, "color": "#000000"},
  "encoding": {"x": {"field": "t", "type": "quantitative", "scale": {"type": "log", "domain": [197, 29840], "nice": false}, "axis": null}, "y": {"field": "m", "type": "quantitative", "scale": {"domain": [16.644, 21.506], "reverse": true, "nice": false, "zero": false}, "axis": null}, "text": {"field": "s"}}
 },
 {
  "data": {"values": [{"t": 147.6, "m": 17.961, "s": "like"}]},
  "mark": {"type": "text", "align": "right", "baseline": "alphabetic", "font": "Liberation Serif", "fontSize": 52, "color": "#000000"},
  "encoding": {"x": {"field": "t", "type": "quantitative", "scale": {"type": "log", "domain": [197, 29840], "nice": false}, "axis": null}, "y": {"field": "m", "type": "quantitative", "scale": {"domain": [16.644, 21.506], "reverse": true, "nice": false, "zero": false}, "axis": null}, "text": {"field": "s"}}
 },
 {
  "data": {"values": [{"t": 72.4, "m": 17.33, "s": "∝"}, {"t": 1262, "m": 19.77, "s": "∝"}]},
  "mark": {"type": "text", "align": "left", "baseline": "alphabetic", "font": "DejaVu Serif", "fontSize": 58, "color": "#000000"},
  "encoding": {"x": {"field": "t", "type": "quantitative", "scale": {"type": "log", "domain": [197, 29840], "nice": false}, "axis": null}, "y": {"field": "m", "type": "quantitative", "scale": {"domain": [16.644, 21.506], "reverse": true, "nice": false, "zero": false}, "axis": null}, "text": {"field": "s"}}
 },
 {
  "data": {"values": [{"t": 113.2, "m": 17.349, "s": "T"}, {"t": 478.4, "m": 19.78, "s": "F"}, {"t": 1972, "m": 19.78, "s": "T"}]},
  "mark": {"type": "text", "align": "left", "baseline": "alphabetic", "font": "Liberation Serif", "fontStyle": "italic", "fontSize": 54, "color": "#000000"},
  "encoding": {"x": {"field": "t", "type": "quantitative", "scale": {"type": "log", "domain": [197, 29840], "nice": false}, "axis": null}, "y": {"field": "m", "type": "quantitative", "scale": {"domain": [16.644, 21.506], "reverse": true, "nice": false, "zero": false}, "axis": null}, "text": {"field": "s"}}
 },
 {
  "data": {"values": [{"t": 623.7, "m": 19.835, "s": "mid"}]},
  "mark": {"type": "text", "align": "left", "baseline": "alphabetic", "font": "Liberation Serif", "fontStyle": "italic", "fontSize": 44, "color": "#000000"},
  "encoding": {"x": {"field": "t", "type": "quantitative", "scale": {"type": "log", "domain": [197, 29840], "nice": false}, "axis": null}, "y": {"field": "m", "type": "quantitative", "scale": {"domain": [16.644, 21.506], "reverse": true, "nice": false, "zero": false}, "axis": null}, "text": {"field": "s"}}
 },
 {
  "data": {"values": [{"t": 151.3, "m": 17.252, "s": "1"}]},
  "mark": {"type": "text", "align": "left", "baseline": "alphabetic", "font": "Liberation Serif", "fontSize": 30, "color": "#000000"},
  "encoding": {"x": {"field": "t", "type": "quantitative", "scale": {"type": "log", "domain": [197, 29840], "nice": false}, "axis": null}, "y": {"field": "m", "type": "quantitative", "scale": {"domain": [16.644, 21.506], "reverse": true, "nice": false, "zero": false}, "axis": null}, "text": {"field": "s"}}
 },
 {
  "data": {"values": [{"t": 2636, "m": 19.697, "s": "0"}]},
  "mark": {"type": "text", "align": "left", "baseline": "alphabetic", "font": "Liberation Sans", "fontSize": 34, "color": "#ff0000"},
  "encoding": {"x": {"field": "t", "type": "quantitative", "scale": {"type": "log", "domain": [197, 29840], "nice": false}, "axis": null}, "y": {"field": "m", "type": "quantitative", "scale": {"domain": [16.644, 21.506], "reverse": true, "nice": false, "zero": false}, "axis": null}, "text": {"field": "s"}}
 },
 {
  "data": {"values": [{"t": 1220, "m": 20.065, "s": "↓"}]},
  "mark": {"type": "text", "align": "center", "baseline": "alphabetic", "font": "DejaVu Serif", "fontSize": 50, "color": "#000000"},
  "encoding": {"x": {"field": "t", "type": "quantitative", "scale": {"type": "log", "domain": [197, 29840], "nice": false}, "axis": null}, "y": {"field": "m", "type": "quantitative", "scale": {"domain": [16.644, 21.506], "reverse": true, "nice": false, "zero": false}, "axis": null}, "text": {"field": "s"}}
 }
],
"resolve": {"scale": {"y": "independent"}, "axis": {"x": "independent", "y": "independent"}}
}
